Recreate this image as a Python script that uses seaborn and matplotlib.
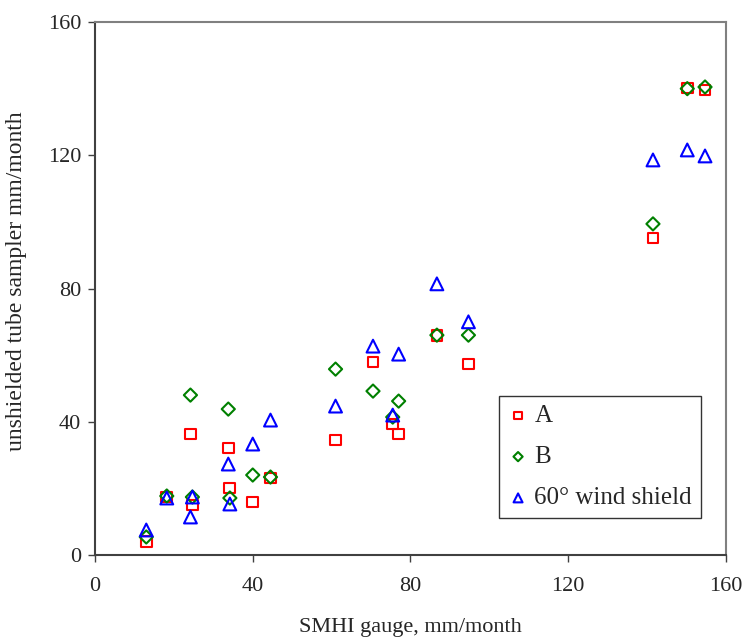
import pandas as pd
import matplotlib.pyplot as plt
import seaborn as sns

# SMHI gauge values (x) and the three samplers (y), mm/month
smhi_x = [13, 18.2, 24.2, 24.7, 33.8, 34.2, 40, 44.5, 61, 70.5, 75.5, 77, 86.7, 94.7, 141.5, 150.2, 154.7]
sampler_a = [4, 17.4, 36.3, 15, 32.1, 20.1, 15.9, 23.1, 34.5, 57.9, 39.3, 36.3, 66, 57.3, 95.2, 140.2, 139.6]
sampler_b = [5.4, 17.7, 48, 17.4, 43.8, 17.1, 24, 23.4, 55.8, 49.2, 41.4, 46.2, 66, 66, 99.4, 140, 140.5]
wind_shield = [7.5, 17.1, 11.4, 17.4, 27.3, 15.3, 33.3, 40.5, 44.7, 62.7, 42, 60.3, 81.4, 70, 118.6, 121.6, 119.8]

series_names = ['A', 'B', '60\u00b0 wind shield']
series_vals = [sampler_a, sampler_b, wind_shield]

rows = []
for name, vals in zip(series_names, series_vals):
    for x, y in zip(smhi_x, vals):
        rows.append({'smhi': x, 'tube': y, 'series': name})
data = pd.DataFrame(rows)

sns.set_style('white')
plt.rcParams['font.family'] = ['Liberation Serif', 'DejaVu Serif']

fig = plt.figure(figsize=(7.44, 6.39), dpi=100)
ax = fig.add_axes([0.1277, 0.1315, 0.848, 0.834])

styles = {'A': ('s', 'red', 60),
          'B': ('D', 'green', 45),
          '60\u00b0 wind shield': ('^', 'blue', 85)}

for name in series_names:
    marker, col, size = styles[name]
    sub = data[data['series'] == name]
    sns.scatterplot(data=sub, x='smhi', y='tube', marker=marker, s=size,
                    facecolor='none', edgecolor=col, linewidth=1.5,
                    label=name, ax=ax)

ax.set_xlim(0, 160)
ax.set_ylim(0, 160)
ax.set_xticks([0, 40, 80, 120, 160])
ax.set_yticks([0, 40, 80, 120, 160])
ax.tick_params(axis='both', direction='out', length=5, width=1, labelsize=16,
               left=True, bottom=True, color='#404040')
ax.tick_params(axis='x', pad=11)
ax.tick_params(axis='y', pad=5)
for side in ['left', 'bottom']:
    ax.spines[side].set_color('#404040')
    ax.spines[side].set_linewidth(1.5)
for side in ['top', 'right']:
    ax.spines[side].set_color('#808080')
    ax.spines[side].set_linewidth(1.5)

ax.set_xlabel('SMHI gauge, mm/month', fontsize=16, labelpad=16)
ax.set_ylabel('unshielded tube sampler mm/month', fontsize=17)
ax.yaxis.set_label_coords(-0.108, 0.514)

leg = ax.legend(loc='lower right', bbox_to_anchor=(0.96, 0.069), fontsize=18,
                frameon=True, fancybox=False, edgecolor='black',
                borderaxespad=0, handletextpad=0.25, labelspacing=0.75,
                borderpad=0.35, markerscale=0.7, handlelength=0.8)
leg.get_frame().set_linewidth(1.0)

plt.savefig('out.png', dpi=100)
